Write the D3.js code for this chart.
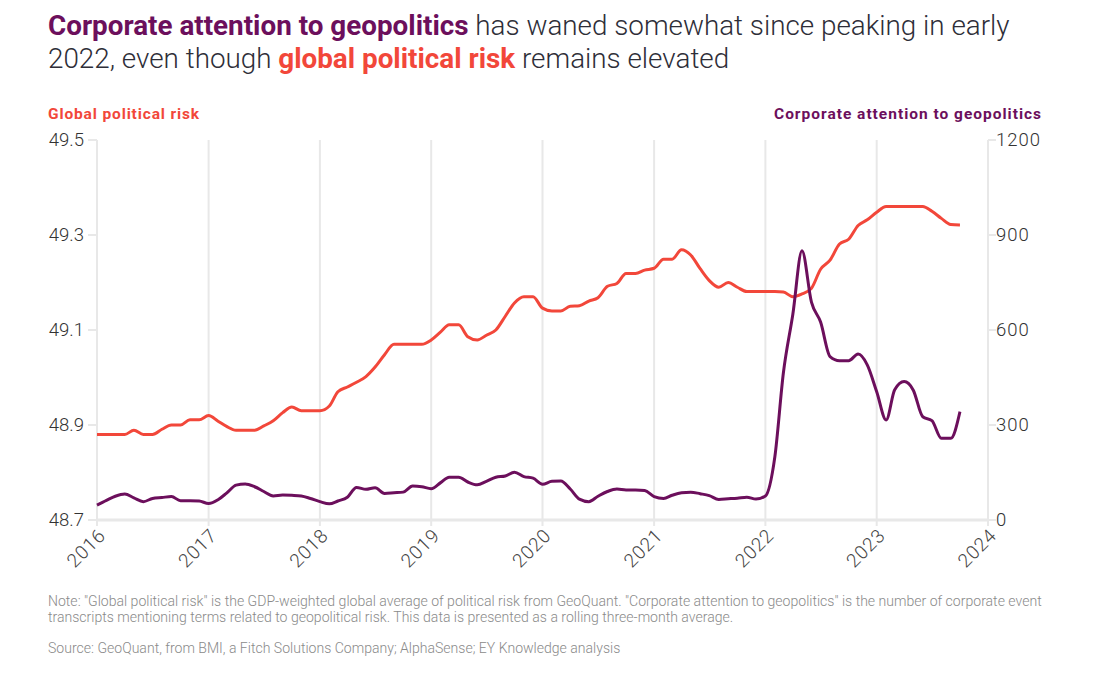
<!DOCTYPE html>
<html>
<head>
<meta charset="utf-8">
<script src="https://cdn.jsdelivr.net/npm/d3@7"></script>
<style>
  html, body { margin: 0; padding: 0; background: #fff; }
  svg { display: block; font-family: Roboto, "Open Sans", sans-serif; }
</style>
</head>
<body>
<svg id="chart" width="1095" height="688"></svg>
<script>
// ---- Data (monthly, rolling three-month average), Jan 2016 .. Oct 2023 ----
const startYear = 2016, startMonth = 0;
const politicalRisk = [
  48.880, 48.880, 48.880, 48.880, 48.889, 48.880, 48.880, 48.891, 48.900, 48.900, 48.911, 48.911,
  48.920, 48.908, 48.897, 48.889, 48.889, 48.889, 48.898, 48.909, 48.926, 48.938, 48.930, 48.930,
  48.930, 48.940, 48.970, 48.980, 48.990, 49.002, 49.022, 49.048, 49.070, 49.070, 49.070, 49.070,
  49.079, 49.096, 49.111, 49.111, 49.086, 49.079, 49.089, 49.100, 49.129, 49.157, 49.170, 49.170,
  49.146, 49.140, 49.140, 49.150, 49.151, 49.161, 49.168, 49.192, 49.198, 49.219, 49.219, 49.226,
  49.230, 49.249, 49.249, 49.269, 49.258, 49.229, 49.204, 49.190, 49.200, 49.190, 49.181, 49.181,
  49.181, 49.181, 49.180, 49.170, 49.176, 49.188, 49.228, 49.247, 49.281, 49.291, 49.320, 49.332,
  49.348, 49.360, 49.360, 49.360, 49.360, 49.360, 49.350, 49.335, 49.322, 49.321
];
const corporateAttention = [
  47, 62, 75, 82, 70, 58, 68, 71, 74, 61, 61, 60,
  52, 64, 85, 110, 114, 105, 90, 76, 79, 78, 76, 68,
  58, 51, 60, 72, 103, 97, 102, 84, 86, 88, 107, 105,
  99, 118, 135, 135, 120, 111, 122, 135, 139, 151, 137, 132,
  113, 122, 123, 98, 66, 58, 75, 90, 98, 95, 95, 93,
  74, 68, 78, 86, 88, 83, 77, 65, 67, 69, 72, 66,
  76, 200, 465, 650, 850, 688, 625, 516, 503, 503, 524, 490,
  405, 316, 411, 437, 410, 326, 314, 258, 258, 342
];
const leftTicks = [48.7, 48.9, 49.1, 49.3, 49.5];
const rightTicks = [0, 300, 600, 900, 1200];
const yearTicks = [2016, 2017, 2018, 2019, 2020, 2021, 2022, 2023, 2024];
const leftLabel = "Global political risk";
const rightLabel = "Corporate attention to geopolitics";
const titleLine1 = [["Corporate attention to geopolitics", "purple"], [" has waned somewhat since peaking in early", "plain"]];
const titleLine2 = [["2022, even though ", "plain"], ["global political risk", "red"], [" remains elevated", "plain"]];
const noteLines = [
  "Note: \"Global political risk\" is the GDP-weighted global average of political risk from GeoQuant. \"Corporate attention to geopolitics\" is the number of corporate event",
  "transcripts mentioning terms related to geopolitical risk. This data is presented as a rolling three-month average."
];
const sourceLine = "Source: GeoQuant, from BMI, a Fitch Solutions Company; AlphaSense; EY Knowledge analysis";

// ---- Styling ----
const RED = "#f2473a", PURPLE = "#6c0f5c", TEXT = "#2e2e38", GRID = "#e8e8e8";
const svg = d3.select("#chart");
const m = { left: 97, right: 988, top: 140, bottom: 520 };

const dates = politicalRisk.map((_, i) => new Date(startYear, startMonth + i, 1));
const x = d3.scaleTime().domain([new Date(2016, 0, 1), new Date(2024, 0, 1)]).range([m.left, m.right]);
const yL = d3.scaleLinear().domain([48.7, 49.5]).range([m.bottom, m.top]);
const yR = d3.scaleLinear().domain([0, 1200]).range([m.bottom, m.top]);

function fit(sel, base, target) {
  const w = sel.node().getComputedTextLength();
  const fs = base * target / w;
  sel.attr("font-size", fs);
  return fs;
}
function fitSpacing(sel, target, n) {
  const w = sel.node().getComputedTextLength();
  sel.attr("letter-spacing", (target - w) / n);
}

// ---- Title ----
const title = svg.append("text").attr("x", 48).attr("y", 35).attr("font-size", 26).attr("fill", TEXT);
function addSpans(t, parts) {
  parts.forEach(([s, k]) => {
    const ts = t.append("tspan").text(s);
    if (k === "purple") ts.attr("fill", PURPLE).attr("font-weight", 700);
    else if (k === "red") ts.attr("fill", RED).attr("font-weight", 700);
    else ts.attr("font-weight", 300);
  });
}
addSpans(title, titleLine1);
const title2 = svg.append("text").attr("x", 48).attr("y", 68).attr("font-size", 26).attr("fill", TEXT);
addSpans(title2, titleLine2);
const tfs = fit(title, 26, 962);
title2.attr("font-size", tfs);

// ---- Axis titles ----
const lt = svg.append("text").attr("x", 48).attr("y", 119).attr("font-size", 15.5).attr("font-weight", 700)
  .attr("fill", RED).text(leftLabel);
fitSpacing(lt, 152, leftLabel.length);
const rt = svg.append("text").attr("x", 1042).attr("y", 119).attr("font-size", 15.5).attr("font-weight", 700)
  .attr("text-anchor", "end").attr("fill", PURPLE).text(rightLabel);
fitSpacing(rt, 268, rightLabel.length);

// ---- Grid (vertical year lines) ----
const g = svg.append("g");
g.selectAll("line.grid").data(yearTicks).join("line")
  .attr("class", "grid")
  .attr("x1", d => x(new Date(d, 0, 1))).attr("x2", d => x(new Date(d, 0, 1)))
  .attr("y1", m.top).attr("y2", m.bottom + 6)
  .attr("stroke", GRID).attr("stroke-width", 2);
g.append("line").attr("x1", m.left).attr("x2", m.right).attr("y1", m.bottom).attr("y2", m.bottom)
  .attr("stroke", GRID).attr("stroke-width", 3);

// ---- Left axis ----
const axL = svg.append("g");
axL.selectAll("line").data(leftTicks).join("line")
  .attr("x1", m.left - 9).attr("x2", m.left).attr("y1", d => yL(d)).attr("y2", d => yL(d))
  .attr("stroke", GRID).attr("stroke-width", 2);
axL.selectAll("text").data(leftTicks).join("text")
  .attr("x", 84).attr("y", d => yL(d)).attr("dy", "0.35em").attr("text-anchor", "end")
  .attr("font-size", 18.5).attr("font-weight", 300).attr("fill", "#333").text(d => d3.format(".1f")(d));

// ---- Right axis ----
const axR = svg.append("g");
axR.selectAll("line").data(rightTicks).join("line")
  .attr("x1", m.right).attr("x2", m.right + 8).attr("y1", d => yR(d)).attr("y2", d => yR(d))
  .attr("stroke", GRID).attr("stroke-width", 2);
axR.selectAll("text").data(rightTicks).join("text")
  .attr("x", 996).attr("y", d => yR(d)).attr("dy", "0.35em").attr("text-anchor", "start")
  .attr("font-size", 18.5).attr("letter-spacing", 1).attr("font-weight", 300).attr("fill", "#333").text(d => d);

// ---- X axis labels ----
svg.append("g").selectAll("text").data(yearTicks).join("text")
  .attr("transform", d => `translate(${x(new Date(d, 0, 1)) + 5},${m.bottom + 12}) rotate(-45)`)
  .attr("text-anchor", "end").attr("dy", "0.35em")
  .attr("font-size", 19).attr("letter-spacing", 0.8).attr("font-weight", 300).attr("fill", "#444").text(d => d);

// ---- Lines ----
const lineL = d3.line().x((d, i) => x(dates[i])).y(d => yL(d)).curve(d3.curveMonotoneX);
const lineR = d3.line().x((d, i) => x(dates[i])).y(d => yR(d)).curve(d3.curveMonotoneX);
svg.append("path").datum(politicalRisk).attr("d", lineL)
  .attr("fill", "none").attr("stroke", RED).attr("stroke-width", 3).attr("stroke-linejoin", "round");
svg.append("path").datum(corporateAttention).attr("d", lineR)
  .attr("fill", "none").attr("stroke", PURPLE).attr("stroke-width", 3).attr("stroke-linejoin", "round");

// ---- Notes ----
const nt = svg.append("g").attr("fill", "#8a8a8a").attr("font-weight", 300);
const n1 = nt.append("text").attr("x", 48).attr("y", 606).attr("font-size", 13).text(noteLines[0]);
const nfs = fit(n1, 13, 994);
nt.append("text").attr("x", 48).attr("y", 622).attr("font-size", nfs).text(noteLines[1]);
nt.append("text").attr("x", 48).attr("y", 653).attr("font-size", nfs).text(sourceLine);
</script>
</body>
</html>
